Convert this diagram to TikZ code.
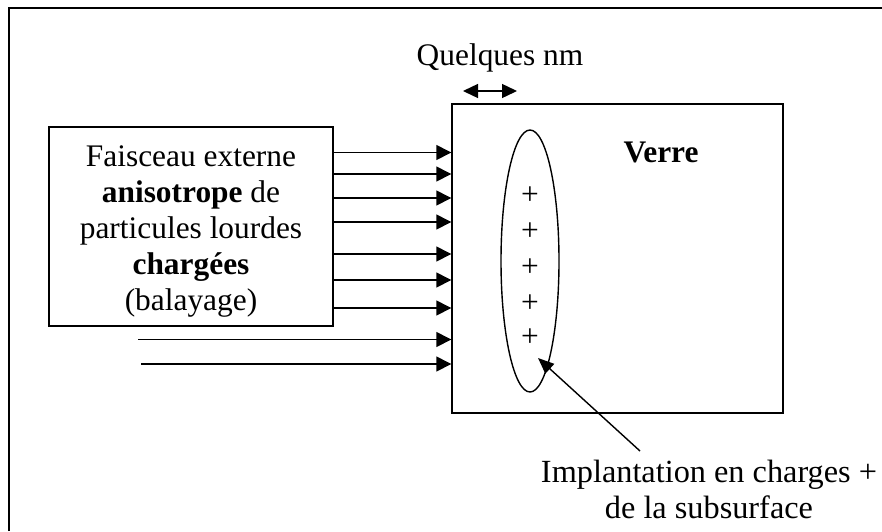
\documentclass[tikz,border=0pt]{standalone}
\usepackage{fontspec}
\setmainfont{Liberation Serif}
\usetikzlibrary{arrows.meta,shapes.geometric}
\begin{document}
\begin{tikzpicture}[x=1pt,y=-1pt,
  txt/.style={font=\fontsize{31.4}{36}\selectfont, inner sep=0pt},
  boxline/.style={draw, line width=1.4pt, inner sep=0pt},
  arr/.style={line width=1.4pt, -{Triangle[length=15pt,width=15pt]}},
  darr/.style={line width=1.4pt, {Triangle[length=15pt,width=14pt]}-{Triangle[length=15pt,width=14pt]}},
  ptr/.style={line width=1.4pt, -{Triangle[length=16pt,width=13pt]}},
]
\useasboundingbox (0,0) rectangle (882,531);
\draw[line width=2pt] (9,531) -- (9,8) -- (882,8);

% source box
\node[boxline, minimum width=284pt, minimum height=199pt] (src) at (191,226.5) {};
\node[txt, align=center] (srctxt) at (191,231)
  {Faisceau externe\\\textbf{anisotrope} de\\particules lourdes\\\textbf{chargées}\\(balayage)};

% glass
\node[boxline, minimum width=331pt, minimum height=309pt] (glass) at (617.5,258.5) {};
\node[txt, anchor=base, font=\fontsize{31.4}{36}\selectfont\bfseries] (verre) at (661,162) {Verre};

% implanted zone
\node[draw, line width=1.4pt, ellipse, minimum width=58pt, minimum height=262pt, inner sep=0pt] (zone) at (530,261) {};
\foreach \i/\yy in {1/196,2/232,3/268,4/304,5/338}
  \node[txt] (p\i) at (530,\yy) {+};

% thickness label
\node[txt, anchor=base] (qnm) at (500,65) {Quelques nm};
\coordinate (w1) at (463,91);
\coordinate (w2) at (517,91);
\draw[darr] (w1) -- (w2);

% beam arrows
\foreach \yy in {152.5,174,198,222,254,280,308}
  \draw[arr] (src.east |- 0,\yy) -- (glass.west |- 0,\yy);
\coordinate (s8) at (138,339.5);
\coordinate (s9) at (141,364);
\draw[arr] (s8) -- (glass.west |- s8);
\draw[arr] (s9) -- (glass.west |- s9);

% pointer
\node[txt, align=center, font=\fontsize{32.3}{36}\selectfont] (impl) at (709,489) {Implantation en charges +\\de la subsurface};
\coordinate (ptail) at (640,451);
\coordinate (ptip) at (538,358);
\draw[ptr] (ptail) -- (ptip);
\end{tikzpicture}
\end{document}
